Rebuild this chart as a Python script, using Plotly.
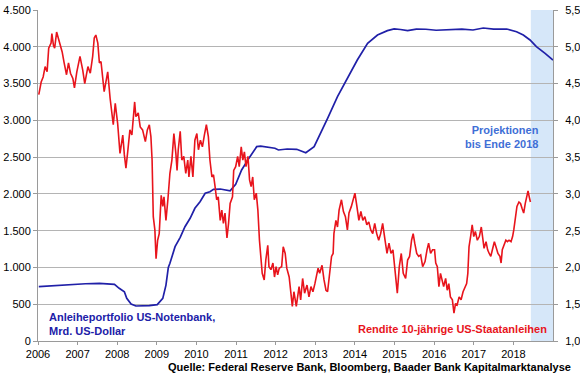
import plotly.graph_objects as go

# Anleiheportfolio US-Notenbank (Mrd. US-Dollar), left axis
fed_t = [2006.02, 2006.40, 2006.79, 2007.20, 2007.55, 2007.93, 2008.05, 2008.18, 2008.24, 2008.35,
         2008.47, 2008.65, 2008.81, 2009.01, 2009.08, 2009.15, 2009.23, 2009.29, 2009.33, 2009.46,
         2009.59, 2009.71, 2009.84, 2009.96, 2010.09, 2010.22, 2010.34, 2010.43, 2010.60, 2010.75,
         2010.85, 2010.99, 2011.14, 2011.35, 2011.52, 2011.62, 2011.73, 2011.85, 2011.98, 2012.07,
         2012.29, 2012.53, 2012.76, 2012.97, 2013.14, 2013.31, 2013.56, 2013.81, 2014.06, 2014.32,
         2014.57, 2014.82, 2014.99, 2015.15, 2015.33, 2015.55, 2015.79, 2016.05, 2016.40, 2016.70,
         2016.98, 2017.24, 2017.50, 2017.83, 2018.08, 2018.25, 2018.42, 2018.58, 2018.80, 2019.00]
fed_v = [738, 752, 770, 778, 784, 770, 716, 670, 580, 503,
         476, 478, 480, 495, 534, 580, 760, 1000, 1056, 1282,
         1410, 1554, 1668, 1804, 1894, 2008, 2030, 2062, 2066, 2050,
         2043, 2130, 2325, 2506, 2642, 2648, 2642, 2630, 2620, 2597,
         2610, 2606, 2560, 2642, 2823, 3027, 3321, 3571, 3820, 4047,
         4160, 4219, 4242, 4235, 4219, 4240, 4238, 4225, 4228, 4240,
         4228, 4255, 4240, 4242, 4205, 4160, 4092, 4001, 3911, 3820]

# Rendite 10-jaehrige US-Staatsanleihen (%), right axis
yld_t = [2006.02, 2006.08, 2006.13, 2006.18, 2006.23, 2006.27, 2006.33, 2006.35, 2006.39, 2006.42,
         2006.47, 2006.54, 2006.61, 2006.66, 2006.72, 2006.77, 2006.82, 2006.88, 2006.92, 2006.98,
         2007.06, 2007.13, 2007.18, 2007.26, 2007.32, 2007.38, 2007.42, 2007.46, 2007.51, 2007.55,
         2007.59, 2007.67, 2007.76, 2007.82, 2007.90, 2007.95, 2008.01, 2008.07, 2008.14, 2008.18,
         2008.22, 2008.27, 2008.32, 2008.37, 2008.44, 2008.47, 2008.53, 2008.58, 2008.64, 2008.71,
         2008.76, 2008.81, 2008.85, 2008.88, 2008.91, 2008.95, 2008.98, 2009.02, 2009.06, 2009.11,
         2009.15, 2009.18, 2009.23, 2009.28, 2009.33, 2009.38, 2009.43, 2009.48, 2009.51, 2009.54,
         2009.59, 2009.63, 2009.68, 2009.73, 2009.78, 2009.81, 2009.86, 2009.91, 2009.96, 2010.01,
         2010.05, 2010.10, 2010.15, 2010.20, 2010.25, 2010.30, 2010.34, 2010.39, 2010.43, 2010.47,
         2010.51, 2010.55, 2010.60, 2010.64, 2010.68, 2010.72, 2010.77, 2010.81, 2010.85, 2010.91,
         2010.94, 2010.99, 2011.04, 2011.08, 2011.13, 2011.17, 2011.21, 2011.25, 2011.30, 2011.34,
         2011.38, 2011.42, 2011.46, 2011.51, 2011.55, 2011.59, 2011.63, 2011.66, 2011.71, 2011.75,
         2011.80, 2011.83, 2011.88, 2011.93, 2011.97, 2012.01, 2012.05, 2012.09, 2012.15, 2012.19,
         2012.24, 2012.28, 2012.34, 2012.39, 2012.42, 2012.46, 2012.52, 2012.59, 2012.63, 2012.68,
         2012.73, 2012.79, 2012.84, 2012.89, 2012.94, 2012.99, 2013.03, 2013.07, 2013.11, 2013.17,
         2013.22, 2013.27, 2013.31, 2013.36, 2013.41, 2013.45, 2013.47, 2013.52, 2013.56, 2013.60,
         2013.66, 2013.71, 2013.76, 2013.81, 2013.85, 2013.91, 2013.96, 2014.00, 2014.05, 2014.10,
         2014.15, 2014.20, 2014.25, 2014.30, 2014.35, 2014.40, 2014.45, 2014.50, 2014.55, 2014.60,
         2014.65, 2014.70, 2014.76, 2014.81, 2014.86, 2014.91, 2014.96, 2015.01, 2015.04, 2015.07,
         2015.12, 2015.17, 2015.22, 2015.28, 2015.33, 2015.38, 2015.43, 2015.47, 2015.51, 2015.56,
         2015.61, 2015.66, 2015.71, 2015.77, 2015.82, 2015.86, 2015.91, 2015.96, 2016.01, 2016.04,
         2016.08, 2016.12, 2016.16, 2016.20, 2016.24, 2016.29, 2016.33, 2016.37, 2016.41, 2016.46,
         2016.50, 2016.54, 2016.58, 2016.63, 2016.68, 2016.73, 2016.78, 2016.82, 2016.85, 2016.88,
         2016.92, 2016.96, 2017.00, 2017.04, 2017.09, 2017.14, 2017.19, 2017.22, 2017.26, 2017.31,
         2017.35, 2017.39, 2017.43, 2017.47, 2017.52, 2017.56, 2017.61, 2017.66, 2017.69, 2017.72,
         2017.77, 2017.81, 2017.85, 2017.89, 2017.94, 2017.98, 2018.01, 2018.05, 2018.09, 2018.14,
         2018.18, 2018.22, 2018.26, 2018.30, 2018.34, 2018.37, 2018.40, 2018.43]
yld_v = [4.35, 4.52, 4.59, 4.73, 4.66, 4.98, 5.05, 5.18, 5.02, 4.98,
         5.20, 5.07, 4.93, 4.78, 4.62, 4.78, 4.64, 4.57, 4.44, 4.66,
         4.87, 4.68, 4.50, 4.73, 4.64, 4.87, 5.12, 5.16, 5.05, 4.78,
         4.80, 4.39, 4.66, 4.30, 3.94, 4.23, 3.96, 3.55, 3.80, 3.53,
         3.35, 3.60, 3.87, 3.80, 4.25, 4.05, 4.10, 3.91, 3.87, 3.71,
         3.87, 3.94, 3.78, 3.46, 2.69, 2.51, 2.12, 2.37, 2.46, 2.98,
         2.83, 2.96, 2.64, 2.93, 3.28, 3.46, 3.82, 3.55, 3.32, 3.60,
         3.85, 3.46, 3.51, 3.28, 3.46, 3.23, 3.51, 3.23, 3.73, 3.82,
         3.60, 3.73, 3.64, 3.80, 3.94, 3.78, 3.46, 3.23, 3.26, 3.10,
         2.92, 2.96, 2.64, 2.78, 2.60, 2.74, 2.40, 2.60, 2.87, 2.96,
         3.32, 3.37, 3.51, 3.37, 3.64, 3.46, 3.57, 3.37, 3.51, 3.19,
         3.10, 3.23, 2.92, 3.01, 2.78, 2.37, 2.10, 1.92, 1.83, 2.10,
         2.30, 2.01, 1.97, 2.06, 1.87, 2.01, 1.90, 1.99, 2.01, 2.28,
         2.19, 1.99, 1.87, 1.65, 1.47, 1.67, 1.47, 1.74, 1.56, 1.85,
         1.65, 1.76, 1.60, 1.74, 1.67, 1.78, 1.90, 1.99, 1.92, 2.03,
         1.83, 1.69, 1.67, 1.92, 2.15, 2.19, 2.46, 2.64, 2.55, 2.78,
         2.92, 2.76, 2.69, 2.51, 2.74, 2.83, 2.92, 3.01, 2.83, 2.64,
         2.76, 2.64, 2.69, 2.58, 2.62, 2.51, 2.46, 2.60, 2.46, 2.37,
         2.46, 2.60, 2.37, 2.19, 2.33, 2.19, 2.24, 2.01, 1.83, 1.65,
         2.01, 2.19, 1.92, 1.85, 2.10, 2.15, 2.37, 2.46, 2.33, 2.19,
         2.15, 2.17, 2.01, 2.08, 2.24, 2.33, 2.19, 2.24, 2.24, 2.06,
         2.01, 1.74, 1.92, 1.83, 1.74, 1.85, 1.69, 1.78, 1.60, 1.56,
         1.38, 1.51, 1.49, 1.60, 1.56, 1.67, 1.74, 1.78, 1.92, 2.28,
         2.42, 2.58, 2.42, 2.49, 2.37, 2.42, 2.55, 2.42, 2.26, 2.35,
         2.24, 2.19, 2.15, 2.24, 2.35, 2.28, 2.19, 2.15, 2.06, 2.24,
         2.33, 2.37, 2.35, 2.37, 2.35, 2.42, 2.51, 2.64, 2.83, 2.89,
         2.87, 2.80, 2.74, 2.87, 2.96, 3.04, 2.96, 2.89]

year_ticks = list(range(2006, 2019))
year_labels = [str(y) for y in year_ticks]
left_ticks = [0, 500, 1000, 1500, 2000, 2500, 3000, 3500, 4000, 4500]
right_ticks = [1.0, 1.5, 2.0, 2.5, 3.0, 3.5, 4.0, 4.5, 5.0, 5.5]
proj_start, proj_end = 2018.44, 2019.0

BLUE = "#2020a8"
RED = "#e8141c"
GRID = "#b4b4b4"
AXIS = "#9a9a9a"
FONT = "Liberation Sans, Arial, sans-serif"
TICKFONT = dict(size=11, color="#000000", family=FONT)

fig = go.Figure()
fig.add_trace(go.Scatter(x=fed_t, y=fed_v, mode="lines", line=dict(color=BLUE, width=1.7),
                         yaxis="y", showlegend=False, hoverinfo="skip"))
fig.add_trace(go.Scatter(x=yld_t, y=yld_v, mode="lines", line=dict(color=RED, width=1.6),
                         yaxis="y2", showlegend=False, hoverinfo="skip"))

fig.add_shape(type="rect", xref="x", yref="paper", x0=proj_start, x1=proj_end, y0=0, y1=1,
              fillcolor="#d6e7f9", line=dict(width=0), layer="below")

fig.update_layout(
    width=580, height=375,
    margin=dict(l=38, r=27, t=10, b=34, autoexpand=False),
    paper_bgcolor="white", plot_bgcolor="white",
    separators=",.",
    font=dict(family=FONT, size=11, color="#000000"),
    xaxis=dict(range=[2006, 2019], tickvals=year_ticks, ticktext=year_labels, automargin=False,
               showgrid=False, showline=True, linecolor=AXIS, linewidth=1,
               ticks="outside", ticklen=3, tickcolor=AXIS, zeroline=False,
               tickfont=TICKFONT),
    yaxis=dict(range=[0, 4500], tickvals=left_ticks, tickformat=",.0f", automargin=False,
               showgrid=True, gridcolor=GRID, gridwidth=1, zeroline=False,
               showline=True, linecolor=AXIS, linewidth=1,
               ticks="outside", ticklen=4, tickcolor=AXIS,
               tickfont=TICKFONT),
    yaxis2=dict(range=[1.0, 5.5], tickvals=right_ticks, tickformat=".1f", automargin=False,
                overlaying="y", side="right", showgrid=False, zeroline=False,
                showline=True, linecolor=AXIS, linewidth=1,
                ticks="outside", ticklen=4, tickcolor=AXIS, ticklabelstandoff=5,
                tickfont=TICKFONT),
)

fig.add_annotation(xref="paper", yref="paper", x=0.017, y=0.05, xanchor="left", yanchor="middle",
                   text="<b>Anleiheportfolio US-Notenbank,<br>Mrd. US-Dollar</b>", showarrow=False,
                   align="left", font=dict(size=11, color=BLUE, family=FONT))
fig.add_annotation(xref="paper", yref="paper", x=0.992, y=0.036, xanchor="right", yanchor="middle",
                   text="<b>Rendite 10-jährige US-Staatanleihen</b>", showarrow=False,
                   font=dict(size=11, color=RED, family=FONT))
fig.add_annotation(xref="paper", yref="paper", x=0.977, y=0.615, xanchor="right", yanchor="middle",
                   text="<b>Projektionen<br>bis Ende 2018</b>", showarrow=False, align="right",
                   font=dict(size=11, color="#3f6fd6", family=FONT))
fig.add_annotation(xref="paper", yref="paper", x=1.039, y=-0.08, xanchor="right", yanchor="middle",
                   text="<b>Quelle: Federal Reserve Bank, Bloomberg, Baader Bank Kapitalmarktanalyse</b>",
                   showarrow=False, font=dict(size=11, color="#000000", family=FONT))

fig.write_html("out.html", config={"displayModeBar": False},
               post_script="document.body.style.margin='0px';")
